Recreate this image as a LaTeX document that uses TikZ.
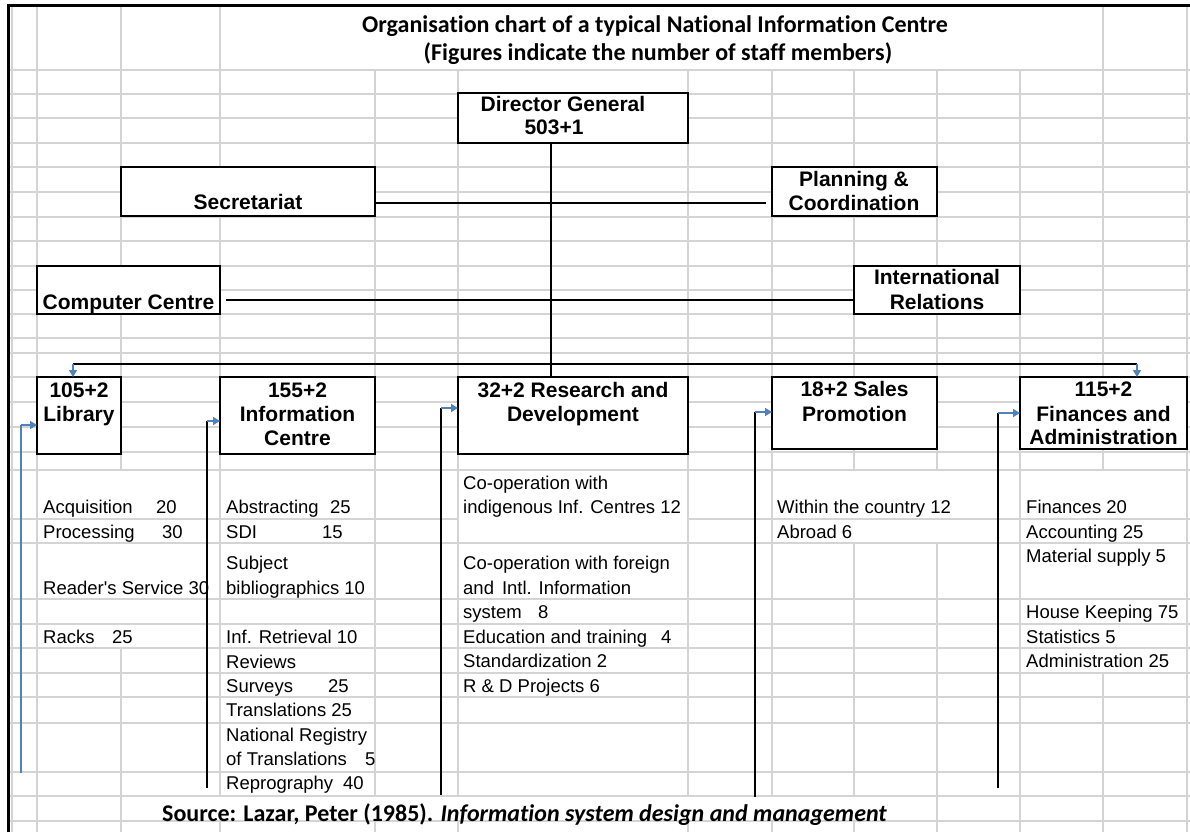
\documentclass[tikz,border=0pt]{standalone}
\usepackage{fontspec}
\setmainfont{Liberation Sans}
\newfontfamily\calib[Ligatures=NoCommon]{Carlito}
\usetikzlibrary{arrows.meta,calc}
\definecolor{gridc}{RGB}{212,212,212}
\definecolor{conblue}{RGB}{79,129,189}
\begin{document}
\begin{tikzpicture}[x=1pt,y=-1pt,
  box/.style={draw=black,line width=1.6pt,fill=white,inner sep=0pt,outer sep=0pt,anchor=north west},
  lab/.style={font=\bfseries\fontsize{21}{25}\selectfont,inner sep=0pt,anchor=base},
  itm/.style={font=\fontsize{18.5}{22}\selectfont,inner sep=0pt,anchor=base west},
  ttl/.style={font=\calib\bfseries\fontsize{24}{28}\selectfont,inner sep=0pt},
  con/.style={draw=black,line width=1.5pt},
  bcon/.style={draw=conblue,line width=1.5pt},
  barr/.style={draw=conblue,line width=1.5pt,-{Triangle[length=7pt,width=8pt]}},
  grd/.style={draw=gridc,line width=1.4pt}]
\useasboundingbox (0,0) rectangle (1190,832);
\fill[white] (0,0) rectangle (1190,832);
% spreadsheet grid
\foreach \x/\a/\b in {12/6/832,37/6/832,121/6/470,121/648/832,220/6/796,220/821/832,375/70/796,375/821/832,458/70/796,458/821/832,688/70/796,688/821/832,772/70/796,772/821/832,854/70/470,854/543/796,854/821/832,937/70/470,937/543/832,1020/70/832,1103/6/470,1103/673/832,1187/6/832}
  \draw[grd] (\x,\a) -- (\x,\b);
\foreach \y in {70,94,118,143,167,192,217,241,266,290,314,338,353,377,402,427,452,470,543,599,624,648,673,697,723,772,796,821}
  \draw[grd] (8,\y) -- (1190,\y);
\draw[grd] (8,519) -- (458,519) (688,519) -- (1190,519);
% sheet border
\draw[line width=3pt] (8.5,832) -- (8.5,6) -- (1190,6);
% title
\node[ttl,anchor=base] (t1) at (655,33) {Organisation chart of a typical National Information Centre};
\node[ttl,anchor=base] (t2) at (658,61) {(Figures indicate the number of staff members)};
% boxes
\node[box,minimum width=230pt,minimum height=50pt] (dg) at (458,93) {};
\node[box,minimum width=254pt,minimum height=49pt] (sec) at (121,167) {};
\node[box,minimum width=165pt,minimum height=49pt] (pc) at (772,167) {};
\node[box,minimum width=183pt,minimum height=48pt] (cc) at (37,266) {};
\node[box,minimum width=166pt,minimum height=48pt] (ir) at (854,266) {};
\node[box,minimum width=84pt,minimum height=77pt] (lib) at (37,377) {};
\node[box,minimum width=155pt,minimum height=77pt] (ic) at (220,377) {};
\node[box,minimum width=230pt,minimum height=77pt] (rd) at (458,377) {};
\node[box,minimum width=165pt,minimum height=72pt] (sp) at (772,377) {};
\node[box,minimum width=167pt,minimum height=72pt] (fa) at (1020,377) {};
% box texts
\node[lab] (dg1) at (563,112) {Director General};
\node[lab] (dg2) at (554,134) {503+1};
\node[lab] (sec1) at (248,209) {Secretariat};
\node[lab] (pc1) at (854,186) {Planning \&};
\node[lab] (pc2) at (854,210) {Coordination};
\node[lab] (cc1) at (128.5,309) {Computer Centre};
\node[lab] (ir1) at (937,284) {International};
\node[lab] (ir2) at (937,309) {Relations};
\node[lab] (lib1) at (79,397) {105+2};
\node[lab] (lib2) at (79,421) {Library};
\node[lab] (ic1) at (297.5,397) {155+2};
\node[lab] (ic2) at (297.5,421) {Information};
\node[lab] (ic3) at (297.5,445) {Centre};
\node[lab] (rd1) at (573,397) {32+2 Research and};
\node[lab] (rd2) at (573,421) {Development};
\node[lab] (sp1) at (854.5,396) {18+2 Sales};
\node[lab] (sp2) at (854.5,421) {Promotion};
\node[lab] (fa1) at (1103.5,396) {115+2};
\node[lab] (fa2) at (1103.5,421) {Finances and};
\node[lab] (fa3) at (1103.5,444) {Administration};
% connectors
\coordinate (trk) at (551,0);
\draw[con] (dg.south -| trk) -- (rd.north -| trk);
\coordinate (ysp) at (0,203);
\draw[con,shorten >=6pt] (sec.east |- ysp) -- (pc.west |- ysp);
\coordinate (yci) at (0,300);
\draw[con,shorten <=6pt] (cc.east |- yci) -- (ir.west |- yci);
\coordinate (bl) at (73,364);
\coordinate (br) at (1137,364);
\draw[con] (bl) -- (br);
\draw[barr] (bl) -- (lib.north -| bl);
\draw[barr] (br) -- (fa.north -| br);
\coordinate (libB) at (21,773);
\coordinate (libE) at (21,425);
\draw[bcon] (libB) -- (libE);
\draw[barr] (libE) -- (lib.west |- libE);
\coordinate (icB) at (207,788);
\coordinate (icE) at (207,421);
\draw[con] (icB) -- (icE);
\draw[barr] (icE) -- (ic.west |- icE);
\coordinate (rdB) at (441,795);
\coordinate (rdE) at (441,408);
\draw[con] (rdB) -- (rdE);
\draw[barr] (rdE) -- (rd.west |- rdE);
\coordinate (spB) at (755,797);
\coordinate (spE) at (755,412);
\draw[con] (spB) -- (spE);
\draw[barr] (spE) -- (sp.west |- spE);
\coordinate (faB) at (998,788);
\coordinate (faE) at (998,413);
\draw[con] (faB) -- (faE);
\draw[barr] (faE) -- (fa.west |- faE);
% Library list
\node[itm] (a1) at (43,513) {\makebox[113pt][l]{Acquisition}20};
\node[itm] (a2) at (43,538) {\makebox[119pt][l]{Processing}30};
\node[itm] (a3) at (43,594) {Reader\textquotesingle s Service 30};
\node[itm] (a4) at (43,643) {\makebox[69pt][l]{Racks}25};
% Information Centre list
\node[itm] (b1) at (226,513) {\makebox[104pt][l]{Abstracting}25};
\node[itm] (b2) at (226,538) {\makebox[96pt][l]{SDI}15};
\node[itm] (b3) at (226,569) {Subject};
\node[itm] (b4) at (226,594) {bibliographics 10};
\node[itm] (b5) at (226,643) {Inf. Retrieval 10};
\node[itm] (b6) at (226,668) {Reviews};
\node[itm] (b7) at (226,692) {\makebox[102pt][l]{Surveys}25};
\node[itm] (b8) at (226,716) {Translations 25};
\node[itm] (b9) at (226,741) {National Registry};
\node[itm] (b10) at (226,765) {\makebox[139pt][l]{of Translations}5};
\node[itm] (b11) at (226,789) {\makebox[117pt][l]{Reprography}40};
% Research and Development list
\node[itm] (c1) at (463,489) {Co-operation with};
\node[itm] (c2) at (463,513) {indigenous Inf. Centres 12};
\node[itm] (c3) at (463,569) {Co-operation with foreign};
\node[itm] (c4) at (463,594) {and\hspace{8pt}Intl. Information};
\node[itm] (c5) at (463,618) {\makebox[75pt][l]{system}8};
\node[itm] (c6) at (463,643) {\makebox[198pt][l]{Education and training}4};
\node[itm] (c7) at (463,667) {Standardization 2};
\node[itm] (c8) at (463,692) {R \& D Projects 6};
% Sales Promotion list
\node[itm] (d1) at (777,513) {Within the country 12};
\node[itm] (d2) at (777,538) {Abroad 6};
% Finances and Administration list
\node[itm] (e1) at (1026,513) {Finances 20};
\node[itm] (e2) at (1026,538) {Accounting 25};
\node[itm] (e3) at (1026,562) {Material supply 5};
\node[itm] (e4) at (1026,618) {House Keeping 75};
\node[itm] (e5) at (1026,643) {Statistics 5};
\node[itm] (e6) at (1026,667) {Administration 25};
% source
\node[ttl,anchor=base west] (src) at (162,821) {Source: Lazar, Peter (1985). \textit{Information system design and management}};
\end{tikzpicture}
\end{document}
